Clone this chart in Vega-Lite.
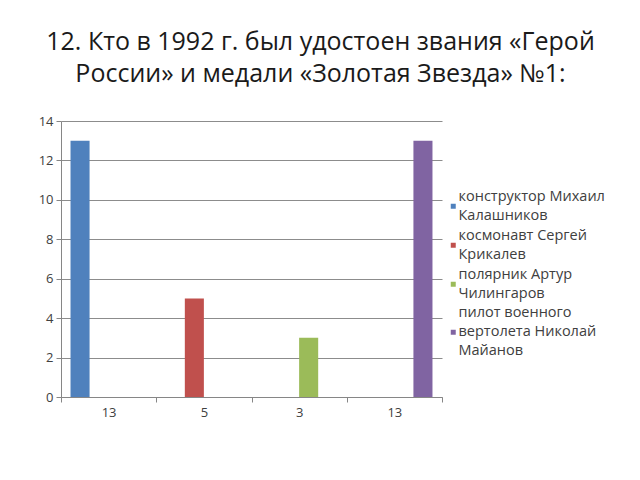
{
  "$schema": "https://vega.github.io/schema/vega-lite/v6.json",
  "width": 381,
  "height": 276,
  "autosize": "none",
  "padding": {"left": 61, "top": 121, "right": 198, "bottom": 83},
  "background": "white",
  "title": {
    "text": ["12. Кто в 1992 г. был удостоен звания «Герой", "России» и медали «Золотая Звезда» №1:"],
    "font": "Open Sans",
    "fontSize": 25,
    "fontWeight": "normal",
    "color": "#1a1a1a",
    "anchor": "middle",
    "frame": "group",
    "dx": 69,
    "lineHeight": 32,
    "offset": 28
  },
  "data": {
    "values": [
      {"group": 1, "series": "конструктор Михаил\nКалашников", "value": 13},
      {"group": 2, "series": "космонавт Сергей\nКрикалев", "value": 5},
      {"group": 3, "series": "полярник Артур\nЧилингаров", "value": 3},
      {"group": 4, "series": "пилот военного\nвертолета Николай\nМайанов", "value": 13}
    ]
  },
  "mark": {"type": "bar"},
  "encoding": {
    "x": {
      "field": "group",
      "type": "ordinal",
      "scale": {"domain": [1, 2, 3, 4], "paddingInner": 0, "paddingOuter": 0},
      "axis": {
        "title": null,
        "labelAngle": 0,
        "labelExpr": "datum.value == 1 ? '13' : datum.value == 2 ? '5' : datum.value == 3 ? '3' : datum.value == 4 ? '13' : ''",
        "tickBand": "extent",
        "tickSize": 5,
        "tickColor": "#868686",
        "domainColor": "#868686",
        "labelFont": "Open Sans",
        "labelFontSize": 13,
        "labelColor": "#404040",
        "labelPadding": 4
      }
    },
    "xOffset": {
      "field": "series",
      "type": "nominal",
      "scale": {
        "domain": ["конструктор Михаил\nКалашников", "космонавт Сергей\nКрикалев", "полярник Артур\nЧилингаров", "пилот военного\nвертолета Николай\nМайанов"],
        "paddingInner": 0,
        "paddingOuter": 0.5
      }
    },
    "y": {
      "field": "value",
      "type": "quantitative",
      "scale": {"domain": [0, 14], "nice": false},
      "axis": {
        "title": null,
        "values": [0, 2, 4, 6, 8, 10, 12, 14],
        "tickSize": 5,
        "tickColor": "#868686",
        "domainColor": "#868686",
        "gridColor": "#8c8c8c",
        "gridOpacity": 1,
        "labelFont": "Open Sans",
        "labelFontSize": 13,
        "labelColor": "#404040",
        "labelPadding": 3
      }
    },
    "color": {
      "field": "series",
      "type": "nominal",
      "scale": {
        "domain": ["конструктор Михаил\nКалашников", "космонавт Сергей\nКрикалев", "полярник Артур\nЧилингаров", "пилот военного\nвертолета Николай\nМайанов"],
        "range": ["#4F81BD", "#C0504D", "#9BBB59", "#8064A2"]
      },
      "legend": {
        "title": null,
        "orient": "none",
        "legendX": 385,
        "legendY": 78,
        "padding": 0,
        "symbolType": "square",
        "symbolSize": 25,
        "labelFont": "Open Sans",
        "labelFontSize": 14.5,
        "labelColor": "#404040",
        "labelOffset": -2,
        "labelExpr": "split(datum.label, '\\n')",
        "labelLimit": 300,
        "rowPadding": 4,
        "encode": {
          "labels": {
            "update": {
              "dy": {"signal": "-9.5 * (length(split(datum.value, '\\n')) - 1)"}
            }
          }
        }
      }
    }
  },
  "config": {
    "view": {"stroke": null},
    "style": {"guide-label": {"lineHeight": 19}}
  }
}
